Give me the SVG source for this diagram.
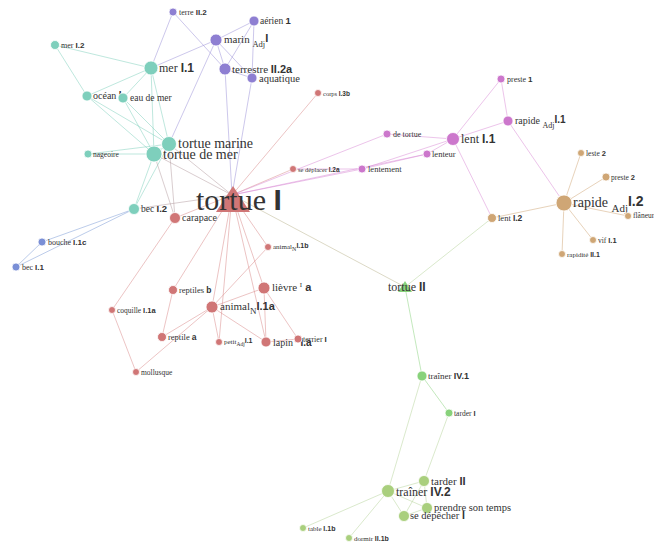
<svg xmlns="http://www.w3.org/2000/svg" width="654" height="544" viewBox="0 0 654 544">
<style>
text{font-family:"Liberation Serif",serif;fill:#333}
.s{font-family:"Liberation Sans",sans-serif;font-weight:bold}
circle{stroke:#fff;stroke-width:0.8}
.teal{fill:#7ecfbc}.pur{fill:#8e7fd2}.blu{fill:#7a8fd6}.red{fill:#d07676}.pnk{fill:#cc77cc}.tan{fill:#cfa675}.grn{fill:#88d27b}.lgr{fill:#a9cf7d}
#edges line{stroke-width:1;stroke-opacity:0.5}
.et{stroke:#7ecfbc}.ep{stroke:#9a8fd8}.eb{stroke:#7a9ad6}.er{stroke:#d98a8a}.ek{stroke:#d98ad6}.ea{stroke:#cfa675}.eg{stroke:#88d27b}.el{stroke:#b5d39a}.ex{stroke:#b9b48e}.em{stroke:#b39ca0}
</style>
<g id="edges">
<line class="et" x1="55" y1="45" x2="151" y2="68"/>
<line class="et" x1="55" y1="45" x2="87" y2="96"/>
<line class="et" x1="151" y1="68" x2="87" y2="96"/>
<line class="et" x1="151" y1="68" x2="123" y2="98"/>
<line class="et" x1="151" y1="68" x2="154" y2="154"/>
<line class="et" x1="151" y1="68" x2="169" y2="144"/>
<line class="ep" x1="173" y1="12" x2="151" y2="68"/>
<line class="ep" x1="216" y1="40" x2="151" y2="68" stroke-opacity="0.3"/>
<line class="ep" x1="216" y1="40" x2="169" y2="144" stroke-opacity="0.3"/>
<line class="et" x1="87" y1="96" x2="169" y2="144"/>
<line class="et" x1="87" y1="96" x2="154" y2="154"/>
<line class="et" x1="123" y1="98" x2="169" y2="144"/>
<line class="et" x1="123" y1="98" x2="154" y2="154"/>
<line class="et" x1="88" y1="154" x2="169" y2="144"/>
<line class="et" x1="88" y1="154" x2="154" y2="154"/>
<line class="et" x1="154" y1="154" x2="169" y2="144"/>
<line class="et" x1="154" y1="154" x2="134" y2="209"/>
<line class="et" x1="169" y1="144" x2="134" y2="209"/>
<line class="em" x1="154" y1="154" x2="232" y2="195"/>
<line class="em" x1="169" y1="144" x2="232" y2="195"/>
<line class="em" x1="154" y1="154" x2="175" y2="218"/>
<line class="em" x1="169" y1="144" x2="175" y2="218"/>
<line class="em" x1="134" y1="209" x2="232" y2="195"/>
<line class="eb" x1="134" y1="209" x2="42" y2="242"/>
<line class="eb" x1="134" y1="209" x2="16" y2="267"/>
<line class="eb" x1="42" y1="242" x2="16" y2="267"/>
<line class="ep" x1="173" y1="12" x2="225" y2="69"/>
<line class="ep" x1="254" y1="21" x2="216" y2="40"/>
<line class="ep" x1="254" y1="21" x2="225" y2="69"/>
<line class="ep" x1="254" y1="21" x2="252" y2="78"/>
<line class="ep" x1="216" y1="40" x2="225" y2="69"/>
<line class="ep" x1="216" y1="40" x2="252" y2="78"/>
<line class="ep" x1="225" y1="69" x2="252" y2="78"/>
<line class="ep" x1="225" y1="69" x2="232" y2="195" stroke-opacity="0.3"/>
<line class="ep" x1="252" y1="78" x2="232" y2="195" stroke-opacity="0.3"/>
<line class="er" x1="232" y1="195" x2="175" y2="218" stroke-width="1.5"/>
<line class="er" x1="232" y1="195" x2="318" y2="93"/>
<line class="er" x1="232" y1="195" x2="293" y2="169"/>
<line class="er" x1="232" y1="195" x2="268" y2="247"/>
<line class="er" x1="232" y1="195" x2="264" y2="288" stroke-width="1.5"/>
<line class="er" x1="232" y1="195" x2="173" y2="290" stroke-width="1.5"/>
<line class="er" x1="232" y1="195" x2="212" y2="307"/>
<line class="er" x1="232" y1="195" x2="219" y2="342"/>
<line class="er" x1="232" y1="195" x2="266" y2="342"/>
<line class="er" x1="175" y1="218" x2="112" y2="310"/>
<line class="er" x1="112" y1="310" x2="136" y2="372"/>
<line class="er" x1="136" y1="372" x2="212" y2="307"/>
<line class="er" x1="173" y1="290" x2="162" y2="337" stroke-width="1.5"/>
<line class="er" x1="162" y1="337" x2="212" y2="307"/>
<line class="er" x1="212" y1="307" x2="264" y2="288"/>
<line class="er" x1="212" y1="307" x2="266" y2="342"/>
<line class="er" x1="212" y1="307" x2="219" y2="342"/>
<line class="er" x1="268" y1="247" x2="212" y2="307"/>
<line class="er" x1="264" y1="288" x2="266" y2="342" stroke-width="1.5"/>
<line class="er" x1="264" y1="288" x2="298" y2="339" stroke-width="1.5"/>
<line class="er" x1="266" y1="342" x2="298" y2="339"/>
<line class="ek" x1="232" y1="195" x2="387" y2="134"/>
<line class="ek" x1="232" y1="195" x2="362" y2="169"/>
<line class="ek" x1="232" y1="195" x2="427" y2="154"/>
<line class="ek" x1="293" y1="169" x2="362" y2="169"/>
<line class="ek" x1="362" y1="169" x2="453" y2="139"/>
<line class="ek" x1="362" y1="169" x2="427" y2="154"/>
<line class="ek" x1="427" y1="154" x2="453" y2="139"/>
<line class="ek" x1="387" y1="134" x2="453" y2="139" stroke-width="1.5"/>
<line class="ek" x1="501" y1="79" x2="453" y2="139"/>
<line class="ek" x1="501" y1="79" x2="508" y2="121" stroke-width="1.5"/>
<line class="ek" x1="453" y1="139" x2="508" y2="121" stroke-width="1.5"/>
<line class="ek" x1="453" y1="139" x2="492" y2="218"/>
<line class="ek" x1="508" y1="121" x2="564" y2="203"/>
<line class="ea" x1="564" y1="203" x2="581" y2="153" stroke-width="1.4"/>
<line class="ea" x1="564" y1="203" x2="606" y2="177" stroke-width="1.4"/>
<line class="ea" x1="564" y1="203" x2="628" y2="216" stroke-width="1.4"/>
<line class="ea" x1="564" y1="203" x2="593" y2="240" stroke-width="1.4"/>
<line class="ea" x1="564" y1="203" x2="562" y2="254" stroke-width="1.4"/>
<line class="ea" x1="564" y1="203" x2="492" y2="218" stroke-width="1.4"/>
<line class="ex" x1="232" y1="195" x2="405" y2="287"/>
<line class="el" x1="492" y1="218" x2="405" y2="287"/>
<line class="eg" x1="405" y1="287" x2="422" y2="376" stroke-width="1.4"/>
<line class="eg" x1="422" y1="376" x2="449" y2="413" stroke-width="1.4"/>
<line class="el" x1="422" y1="376" x2="388" y2="491"/>
<line class="el" x1="449" y1="413" x2="424" y2="481"/>
<line class="el" x1="388" y1="491" x2="424" y2="481"/>
<line class="el" x1="388" y1="491" x2="427" y2="508"/>
<line class="el" x1="388" y1="491" x2="404" y2="516"/>
<line class="el" x1="388" y1="491" x2="303" y2="528"/>
<line class="el" x1="388" y1="491" x2="349" y2="538"/>
<line class="el" x1="424" y1="481" x2="427" y2="508"/>
<line class="el" x1="424" y1="481" x2="404" y2="516"/>
<line class="el" x1="427" y1="508" x2="404" y2="516"/>
</g>
<g id="n_mer12"><circle class="teal" cx="55" cy="45" r="4.5"/><text x="61" y="48" font-size="8">mer <tspan class="s">I.2</tspan></text></g>
<g id="n_mer11"><circle class="teal" cx="151" cy="68" r="7"/><text x="159" y="72" font-size="12">mer <tspan class="s">I.1</tspan></text></g>
<g id="n_ocean"><circle class="teal" cx="87" cy="96" r="5"/><text x="93" y="99" font-size="10">océan <tspan class="s">I</tspan></text></g>
<g id="n_eau"><circle class="teal" cx="123" cy="98" r="5"/><text x="130" y="101" font-size="9.5">eau de mer</text></g>
<g id="n_tmarine"><circle class="teal" cx="169" cy="144" r="7.5"/><text x="178" y="148" font-size="14">tortue marine</text></g>
<g id="n_tdemer"><circle class="teal" cx="154" cy="154" r="8"/><text x="163" y="159" font-size="14">tortue de mer</text></g>
<g id="n_nageoire"><circle class="teal" cx="88" cy="154" r="4"/><text x="93" y="157" font-size="7.5">nageoire</text></g>
<g id="n_bec12"><circle class="teal" cx="134" cy="209" r="5.5"/><text x="141" y="212" font-size="9.5">bec <tspan class="s">I.2</tspan></text></g>
<g id="n_terre"><circle class="pur" cx="173" cy="12" r="4"/><text x="179" y="15" font-size="8">terre <tspan class="s">II.2</tspan></text></g>
<g id="n_aerien"><circle class="pur" cx="254" cy="21" r="5"/><text x="260" y="24" font-size="9.5">aérien <tspan class="s">1</tspan></text></g>
<g id="n_marin"><circle class="pur" cx="216" cy="40" r="6"/><text x="224" y="43" font-size="11">marin <tspan font-size="8.5" dy="4">Adj</tspan><tspan class="s" dy="-5">I</tspan></text></g>
<g id="n_terrestre"><circle class="pur" cx="225" cy="69" r="6"/><text x="232" y="73" font-size="11">terrestre <tspan class="s">II.2a</tspan></text></g>
<g id="n_aquatique"><circle class="pur" cx="252" cy="78" r="5"/><text x="259" y="82" font-size="10.5">aquatique</text></g>
<g id="n_bouche"><circle class="blu" cx="42" cy="242" r="4"/><text x="48" y="245" font-size="8">bouche <tspan class="s">I.1c</tspan></text></g>
<g id="n_bec11"><circle class="blu" cx="16" cy="267" r="4"/><text x="22" y="270" font-size="8">bec <tspan class="s">I.1</tspan></text></g>
<g id="n_tortue1"><polygon class="red" points="233,186 216,212 250,212"/><text x="196" y="210" font-size="30">tortue <tspan class="s">I</tspan></text></g>
<g id="n_carapace"><circle class="red" cx="175" cy="218" r="5.5"/><text x="182" y="221" font-size="10">carapace</text></g>
<g id="n_corps"><circle class="red" cx="318" cy="93" r="3.5"/><text x="323" y="96" font-size="6.5">corps <tspan class="s">I.3b</tspan></text></g>
<g id="n_sedeplacer"><circle class="red" cx="293" cy="169" r="3.5"/><text x="298" y="172" font-size="6.5">se déplacer <tspan class="s">I.2a</tspan></text></g>
<g id="n_animal1b"><circle class="red" cx="268" cy="247" r="3.5"/><text x="273" y="249" font-size="7">animal<tspan font-size="6" dy="2">N</tspan><tspan class="s" dy="-3">I.1b</tspan></text></g>
<g id="n_lievre"><circle class="red" cx="264" cy="288" r="6"/><text x="272" y="291" font-size="11">lièvre <tspan font-size="7" dy="-4">I</tspan><tspan class="s" dy="4"> a</tspan></text></g>
<g id="n_reptiles"><circle class="red" cx="173" cy="290" r="4.5"/><text x="179" y="293" font-size="8.5">reptiles <tspan class="s">b</tspan></text></g>
<g id="n_coquille"><circle class="red" cx="112" cy="310" r="3.5"/><text x="117" y="313" font-size="7.5">coquille <tspan class="s">I.1a</tspan></text></g>
<g id="n_animal1a"><circle class="red" cx="212" cy="307" r="6"/><text x="220" y="310" font-size="11">animal<tspan font-size="9" dy="4">N</tspan><tspan class="s" dy="-4">I.1a</tspan></text></g>
<g id="n_reptile"><circle class="red" cx="162" cy="337" r="4.5"/><text x="168" y="340" font-size="8.5">reptile <tspan class="s">a</tspan></text></g>
<g id="n_petit"><circle class="red" cx="219" cy="342" r="3.5"/><text x="224" y="344" font-size="7">petit<tspan font-size="5.5" dy="2">Adj</tspan><tspan class="s" dy="-3">I.1</tspan></text></g>
<g id="n_lapin"><circle class="red" cx="266" cy="342" r="5"/><text x="273" y="346" font-size="10">lapin <tspan font-size="6.5" dy="-4">I</tspan><tspan class="s" dy="4"> I.a</tspan></text></g>
<g id="n_terrier"><circle class="red" cx="298" cy="339" r="4"/><text x="303" y="342" font-size="8">terrier <tspan class="s">I</tspan></text></g>
<g id="n_mollusque"><circle class="red" cx="136" cy="372" r="3.5"/><text x="141" y="375" font-size="7.5">mollusque</text></g>
<g id="n_preste1"><circle class="pnk" cx="501" cy="79" r="4"/><text x="507" y="82" font-size="8">preste <tspan class="s">1</tspan></text></g>
<g id="n_rapide11"><circle class="pnk" cx="508" cy="121" r="5"/><text x="515" y="124" font-size="10">rapide <tspan font-size="8" dy="4">Adj</tspan><tspan class="s" dy="-5">I.1</tspan></text></g>
<g id="n_detortue"><circle class="pnk" cx="387" cy="134" r="4"/><text x="393" y="137" font-size="8">de tortue</text></g>
<g id="n_lent11"><circle class="pnk" cx="453" cy="139" r="6.5"/><text x="461" y="143" font-size="12">lent <tspan class="s">I.1</tspan></text></g>
<g id="n_lenteur"><circle class="pnk" cx="427" cy="154" r="4"/><text x="432" y="157" font-size="8.5">lenteur</text></g>
<g id="n_lentement"><circle class="pnk" cx="362" cy="169" r="4"/><text x="368" y="172" font-size="8.5">lentement</text></g>
<g id="n_leste"><circle class="tan" cx="581" cy="153" r="3.5"/><text x="586" y="156" font-size="7.5">leste <tspan class="s">2</tspan></text></g>
<g id="n_preste2"><circle class="tan" cx="606" cy="177" r="4"/><text x="611" y="180" font-size="7.5">preste <tspan class="s">2</tspan></text></g>
<g id="n_rapide12"><circle class="tan" cx="564" cy="203" r="8"/><text x="573" y="207" font-size="14">rapide <tspan font-size="11" dy="5">Adj</tspan><tspan class="s" dy="-6">I.2</tspan></text></g>
<g id="n_flaneur"><circle class="tan" cx="628" cy="216" r="3.5"/><text x="633" y="218" font-size="7.5">flâneur</text></g>
<g id="n_lent12"><circle class="tan" cx="492" cy="218" r="4.5"/><text x="498" y="221" font-size="8.5">lent <tspan class="s">I.2</tspan></text></g>
<g id="n_vif"><circle class="tan" cx="593" cy="240" r="3.5"/><text x="598" y="243" font-size="7.5">vif <tspan class="s">I.1</tspan></text></g>
<g id="n_rapidite"><circle class="tan" cx="562" cy="254" r="3.5"/><text x="567" y="257" font-size="7">rapidité <tspan class="s">II.1</tspan></text></g>
<g id="n_tortue2"><polygon class="grn" points="405,281 398,292 412,292"/><text x="388" y="291" font-size="12">tortue <tspan class="s">II</tspan></text></g>
<g id="n_trainer41"><circle class="grn" cx="422" cy="376" r="5"/><text x="428" y="379" font-size="9">traîner <tspan class="s">IV.1</tspan></text></g>
<g id="n_tarder1"><circle class="grn" cx="449" cy="413" r="4"/><text x="454" y="416" font-size="7.5">tarder <tspan class="s">I</tspan></text></g>
<g id="n_trainer42"><circle class="lgr" cx="388" cy="491" r="6.5"/><text x="396" y="496" font-size="12">traîner <tspan class="s">IV.2</tspan></text></g>
<g id="n_tarder2"><circle class="lgr" cx="424" cy="481" r="5.5"/><text x="431" y="485" font-size="11">tarder <tspan class="s">II</tspan></text></g>
<g id="n_prendre"><circle class="lgr" cx="427" cy="508" r="5.5"/><text x="434" y="511" font-size="10.5">prendre son temps</text></g>
<g id="n_sedepecher"><circle class="lgr" cx="404" cy="516" r="5.5"/><text x="410" y="519" font-size="10.5">se dépêcher <tspan class="s">I</tspan></text></g>
<g id="n_table"><circle class="lgr" cx="303" cy="528" r="3.5"/><text x="308" y="531" font-size="7">table <tspan class="s">I.1b</tspan></text></g>
<g id="n_dormir"><circle class="lgr" cx="349" cy="538" r="3.5"/><text x="354" y="541" font-size="7">dormir <tspan class="s">II.1b</tspan></text></g>
</svg>
